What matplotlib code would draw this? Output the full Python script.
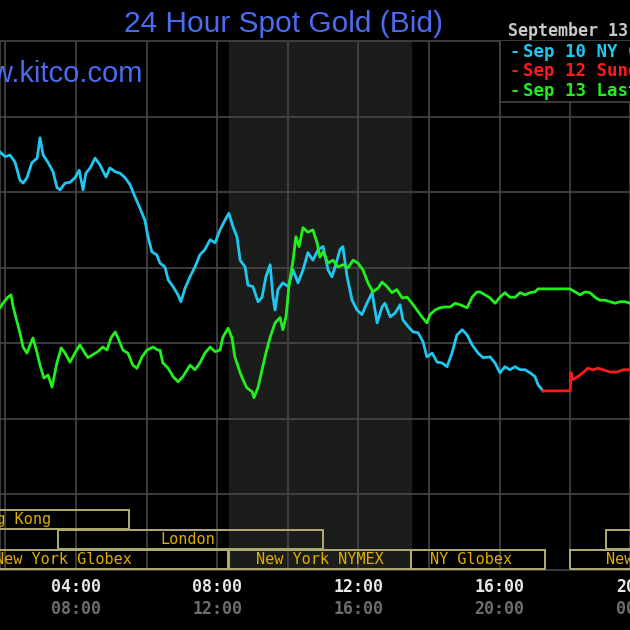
import matplotlib
matplotlib.use("Agg")
import matplotlib.pyplot as plt
from matplotlib.patches import Rectangle
from matplotlib.transforms import blended_transform_factory

# Sep 10 NY close (hours EST, price)
blue_t = [1.85, 1.99, 2.13, 2.27, 2.41, 2.50, 2.61, 2.75, 2.90, 2.98, 3.07, 3.21, 3.35, 3.46, 3.55,
          3.69, 3.83, 3.97, 4.09, 4.20, 4.28, 4.40, 4.54, 4.68, 4.85, 4.96, 5.11, 5.25, 5.39, 5.53,
          5.67, 5.81, 5.95, 6.04, 6.15, 6.29, 6.38, 6.52, 6.61, 6.75, 6.89, 6.97, 7.09, 7.23, 7.37,
          7.51, 7.65, 7.80, 7.94, 8.08, 8.22, 8.33, 8.45, 8.56, 8.65, 8.79, 8.87, 9.01, 9.16, 9.27,
          9.38, 9.50, 9.58, 9.64, 9.72, 9.86, 10.01, 10.15, 10.29, 10.43, 10.57, 10.71, 10.86, 11.00,
          11.14, 11.25, 11.34, 11.48, 11.56, 11.68, 11.82, 11.96, 12.10, 12.24, 12.39, 12.53, 12.67,
          12.75, 12.90, 13.04, 13.18, 13.26, 13.41, 13.55, 13.69, 13.83, 13.94, 14.09, 14.23, 14.37,
          14.51, 14.65, 14.79, 14.94, 15.08, 15.22, 15.39, 15.53, 15.73, 15.87, 16.01, 16.15, 16.29,
          16.44, 16.58, 16.72, 16.86, 17.00, 17.09, 17.23]
blue_p = [1245.53, 1245.47, 1245.49, 1245.40, 1245.16, 1245.12, 1245.19, 1245.39, 1245.45, 1245.72,
          1245.49, 1245.39, 1245.27, 1245.06, 1245.03, 1245.12, 1245.13, 1245.19, 1245.29, 1245.03,
          1245.25, 1245.32, 1245.45, 1245.36, 1245.20, 1245.32, 1245.27, 1245.25, 1245.19, 1245.10,
          1244.94, 1244.79, 1244.63, 1244.41, 1244.21, 1244.17, 1244.06, 1244.01, 1243.84, 1243.75,
          1243.64, 1243.55, 1243.73, 1243.88, 1244.01, 1244.17, 1244.24, 1244.37, 1244.33, 1244.50,
          1244.63, 1244.72, 1244.54, 1244.41, 1244.10, 1244.01, 1243.77, 1243.75, 1243.55, 1243.61,
          1243.88, 1244.04, 1243.61, 1243.44, 1243.71, 1243.80, 1243.75, 1243.97, 1243.80, 1243.97,
          1244.20, 1244.10, 1244.24, 1244.28, 1243.97, 1243.88, 1244.01, 1244.24, 1244.28, 1243.88,
          1243.57, 1243.44, 1243.38, 1243.53, 1243.67, 1243.27, 1243.48, 1243.53, 1243.35, 1243.40,
          1243.51, 1243.31, 1243.22, 1243.15, 1243.14, 1243.02, 1242.82, 1242.87, 1242.75, 1242.74,
          1242.69, 1242.87, 1243.11, 1243.18, 1243.11, 1242.98, 1242.87, 1242.81, 1242.82, 1242.74,
          1242.61, 1242.69, 1242.65, 1242.69, 1242.65, 1242.65, 1242.61, 1242.56, 1242.45, 1242.37]

# Sep 12 Sunday
red_t = [17.23, 18.00, 18.02, 18.07, 18.22, 18.36, 18.50, 18.64, 18.79, 18.93, 19.13, 19.33, 19.50, 19.70]
red_p = [1242.37, 1242.37, 1242.61, 1242.52, 1242.56, 1242.61, 1242.67, 1242.65, 1242.67, 1242.65,
         1242.62, 1242.62, 1242.65, 1242.65]

# Sep 13 last
green_t = [1.85, 1.93, 2.07, 2.16, 2.22, 2.33, 2.41, 2.50, 2.61, 2.70, 2.78, 2.90, 2.98, 3.09, 3.21,
           3.32, 3.46, 3.58, 3.69, 3.83, 3.97, 4.11, 4.25, 4.34, 4.48, 4.62, 4.76, 4.88, 4.99, 5.11,
           5.19, 5.33, 5.47, 5.61, 5.73, 5.87, 6.01, 6.18, 6.32, 6.38, 6.46, 6.61, 6.75, 6.89, 7.03,
           7.23, 7.37, 7.51, 7.65, 7.80, 7.94, 8.08, 8.16, 8.31, 8.42, 8.50, 8.65, 8.73, 8.84, 8.99,
           9.04, 9.16, 9.27, 9.38, 9.50, 9.64, 9.78, 9.86, 9.95, 10.03, 10.15, 10.23, 10.32, 10.43,
           10.57, 10.71, 10.83, 10.91, 11.00, 11.14, 11.28, 11.42, 11.56, 11.71, 11.85, 11.99, 12.13,
           12.27, 12.41, 12.56, 12.67, 12.81, 12.95, 13.09, 13.24, 13.38, 13.52, 13.66, 13.80, 13.94,
           14.03, 14.17, 14.31, 14.45, 14.60, 14.74, 14.88, 15.08, 15.22, 15.36, 15.44, 15.59, 15.73,
           15.87, 16.01, 16.15, 16.29, 16.44, 16.58, 16.72, 16.86, 17.00, 17.09, 17.99, 18.14, 18.28,
           18.42, 18.56, 18.70, 18.84, 18.99, 19.13, 19.27, 19.41, 19.55, 19.70]
green_p = [1243.47, 1243.53, 1243.61, 1243.64, 1243.48, 1243.28, 1243.14, 1242.95, 1242.87, 1242.98,
           1243.07, 1242.87, 1242.71, 1242.54, 1242.58, 1242.42, 1242.74, 1242.94, 1242.87, 1242.75,
           1242.87, 1242.98, 1242.87, 1242.81, 1242.85, 1242.89, 1242.95, 1242.91, 1243.07, 1243.15,
           1243.07, 1242.91, 1242.87, 1242.71, 1242.67, 1242.82, 1242.91, 1242.95, 1242.91, 1242.91,
           1242.74, 1242.67, 1242.56, 1242.49, 1242.56, 1242.71, 1242.65, 1242.74, 1242.87, 1242.95,
           1242.89, 1242.91, 1243.08, 1243.20, 1243.07, 1242.82, 1242.61, 1242.52, 1242.41, 1242.36,
           1242.28, 1242.42, 1242.65, 1242.87, 1243.08, 1243.27, 1243.34, 1243.18, 1243.35, 1243.75,
           1244.10, 1244.41, 1244.28, 1244.53, 1244.47, 1244.50, 1244.33, 1244.14, 1244.21, 1244.06,
           1244.10, 1244.01, 1244.04, 1244.00, 1244.10, 1244.06, 1243.97, 1243.80, 1243.68, 1243.73,
           1243.81, 1243.75, 1243.67, 1243.71, 1243.60, 1243.61, 1243.53, 1243.44, 1243.35, 1243.27,
           1243.38, 1243.44, 1243.47, 1243.48, 1243.48, 1243.53, 1243.51, 1243.47, 1243.61, 1243.68,
           1243.68, 1243.64, 1243.60, 1243.53, 1243.61, 1243.67, 1243.61, 1243.61, 1243.67, 1243.64,
           1243.67, 1243.68, 1243.72, 1243.72, 1243.68, 1243.64, 1243.68, 1243.67, 1243.61, 1243.57,
           1243.57, 1243.55, 1243.53, 1243.55, 1243.55, 1243.53]

# market sessions: label, start hour, end hour, row (0 = top), label centre hour
sessions = [("Hong Kong", -2.0, 5.5, 0, 2.13),
            ("London", 3.5, 11.0, 1, 7.17),
            ("New York Globex", -2.0, 8.3, 2, 3.65),
            ("New York NYMEX", 8.33, 13.5, 2, 10.9),
            ("NY Globex", 13.5, 17.3, 2, 15.19),
            ("New York Globex", 18.0, 24.0, 2, 20.94),
            ("", 19.0, 24.0, 1, 21.0)]

tick_hours = [4, 8, 12, 16, 20]
tick_est = ["04:00", "08:00", "12:00", "16:00", "20:00"]
tick_gmt = ["08:00", "12:00", "16:00", "20:00", "00:00"]

legend_labels = ["Sep 10 NY Close", "Sep 12 Sunday", "Sep 13 Last"]
c_blue, c_red, c_green = "#1ec8f0", "#ff1a1a", "#22f01e"
grid_c = "#464646"
gold = "#e0ad00"
title_blue = "#4b6cf0"

fig = plt.figure(figsize=(6.3, 6.3), dpi=100, facecolor="black")
ax = fig.add_axes([0, 60 / 630, 1, 529 / 630])
ax.set_facecolor("black")

ax.axvspan(8.333, 13.5, color="#1b1d1b", zorder=0)

ax.set_xticks(range(2, 20, 2))
ax.set_xticklabels([])
ax.set_yticks(range(1241, 1247))
ax.set_yticklabels([])
ax.tick_params(axis="both", which="both", length=0)
ax.grid(True, color=grid_c, lw=1.2, zorder=1)
for s in ax.spines.values():
    s.set_color(grid_c)
    s.set_linewidth(1.2)
ax.set_xlim(1.847, 19.694)
ax.set_ylim(1240, 1247)

# time labels: EST (white) and GMT (grey) below the plot
trans = blended_transform_factory(ax.transData, ax.transAxes)
for h, est, gmt in zip(tick_hours, tick_est, tick_gmt):
    ax.text(h, -0.032, est, transform=trans, ha="center", va="center", color="#e8e8e8",
            fontsize=12, fontweight="bold", family="DejaVu Sans Mono", clip_on=False)
    ax.text(h, -0.073, gmt, transform=trans, ha="center", va="center", color="#6e6e6e",
            fontsize=12, fontweight="bold", family="DejaVu Sans Mono", clip_on=False)

# session bars at the bottom
row_top = [1240.796, 1240.532, 1240.267]
row_h = 0.252
for lab, t0, t1, row, tc in sessions:
    ax.add_patch(Rectangle((t0, row_top[row] - row_h), t1 - t0, row_h, fill=False,
                           edgecolor="#b4ab74", lw=1.4, zorder=3))
    if lab:
        ax.text(tc, row_top[row] - row_h / 2, lab, ha="center", va="center", color=gold,
                fontsize=11, family="DejaVu Sans Mono", zorder=4)

ax.plot(blue_t, blue_p, color=c_blue, lw=2.0, zorder=5)
ax.plot(green_t, green_p, color=c_green, lw=2.0, zorder=5)
ax.plot(red_t, red_p, color=c_red, lw=2.0, zorder=6)

# legend box in the top right corner
ax.add_patch(Rectangle((16.01, 1246.19), 5, 1.0, facecolor="black", edgecolor=grid_c, lw=1.2, zorder=6))
for i, (lab, c) in enumerate(zip(legend_labels, [c_blue, c_red, c_green])):
    fig.text(510 / 630, 1 - (52 + 19.5 * i) / 630, "-", color=c, fontsize=12, fontweight="bold",
             family="DejaVu Sans Mono", va="center")
    fig.text(523 / 630, 1 - (52 + 19.5 * i) / 630, lab, color=c, fontsize=12.5, fontweight="bold",
             family="DejaVu Sans Mono", va="center")

ax.text(142 / 630, 1 - 33 / 529, "www.kitco.com", transform=ax.transAxes, ha="right", va="center",
        color=title_blue, fontsize=21, family="Liberation Sans", zorder=4)

fig.text(284 / 630, 1 - 24 / 630, "24 Hour Spot Gold (Bid)", ha="center", va="center",
         color=title_blue, fontsize=21.5, family="Liberation Sans")
fig.text(508 / 630, 1 - 31 / 630, "September 13, 2010", ha="left", va="center", color="#c8c8c8",
         fontsize=12, fontweight="bold", family="DejaVu Sans Mono")

fig.savefig("out.png", dpi=100, facecolor="black")
